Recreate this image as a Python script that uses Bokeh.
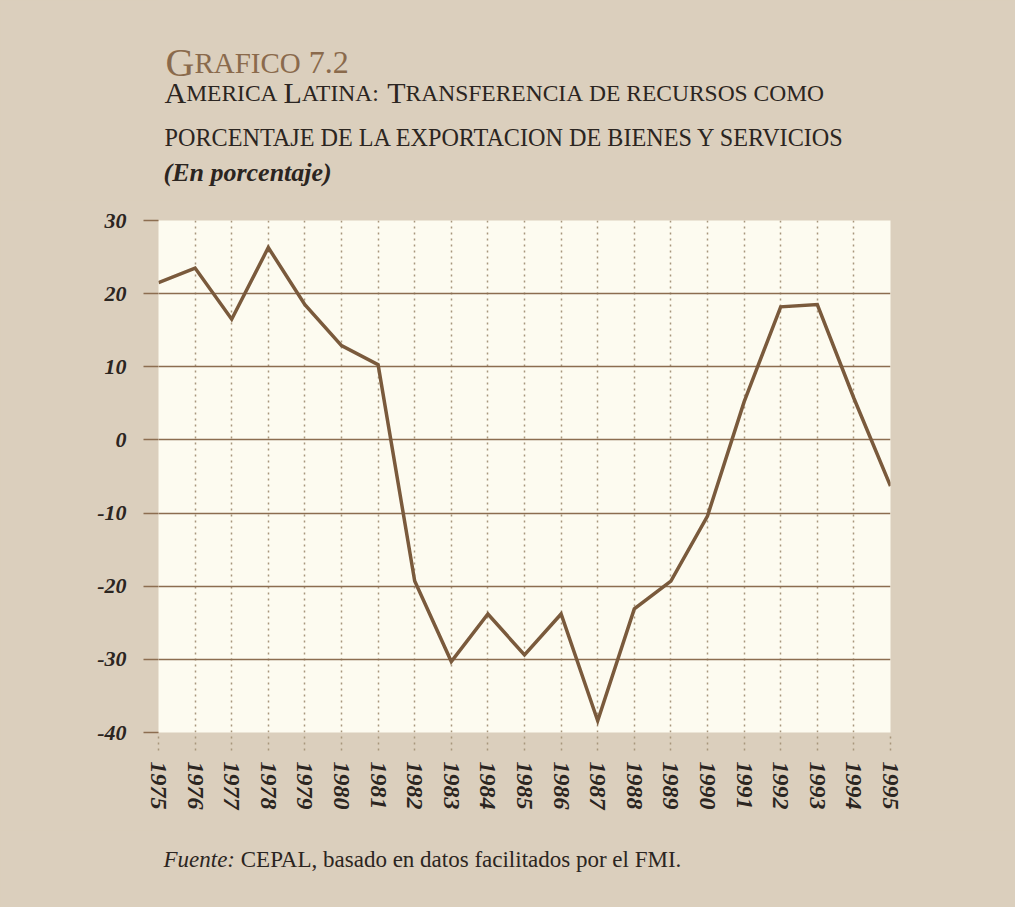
from bokeh.plotting import figure
from bokeh.layouts import column
from bokeh.models import ColumnDataSource, Range1d, FixedTicker
from bokeh.core.properties import value
from bokeh.embed import file_html
from bokeh.resources import INLINE

# ---------------- data ----------------
years = [1975, 1976, 1977, 1978, 1979, 1980, 1981, 1982, 1983, 1984, 1985,
         1986, 1987, 1988, 1989, 1990, 1991, 1992, 1993, 1994, 1995]
values = [21.5, 23.5, 16.5, 26.3, 18.5, 12.9, 10.3, -19.3, -30.3, -23.8, -29.4,
          -23.8, -38.4, -23.1, -19.3, -10.4, 5.2, 18.2, 18.5, 5.7, -6.3]
y_ticks = [-40, -30, -20, -10, 0, 10, 20, 30]
y_tick_labels = {t: str(t) for t in y_ticks}
x_tick_labels = {y: str(y) for y in years}

title_text = "GRAFICO 7.2"
subtitle_1 = "AMERICA LATINA: TRANSFERENCIA DE RECURSOS COMO"
subtitle_2 = "PORCENTAJE DE LA EXPORTACION DE BIENES Y SERVICIOS"
subtitle_3 = "(En porcentaje)"
source_lead = "Fuente:"
source_rest = "CEPAL, basado en datos facilitados por el FMI."

# ---------------- styles ----------------
BEIGE = "#dbcfbd"
CREAM = "#fdfbf0"
LINE = "#7a5a3c"
HGRID = "#8c6d50"
VGRID = "#a8967c"
DARK = "#2b2521"
TITLE_BROWN = "#8a6a4c"
FONT = "Liberation Serif"
W = 1015
H_HEAD, H_MAIN, H_FOOT = 200, 630, 77
BL, BR = 158, 125   # left / right borders shared by all panels
FRAME_W = W - BL - BR

# Times / Liberation Serif advance widths (per 1000 em)
REG = dict(zip("ABCDEFGHIJKLMNOPQRSTUVWXYZ",
               [722, 667, 667, 722, 611, 556, 722, 722, 333, 389, 722, 611, 889,
                722, 722, 556, 722, 667, 556, 611, 722, 722, 944, 722, 722, 611]))
REG.update(dict(zip("abcdefghijklmnopqrstuvwxyz",
                    [444, 500, 444, 500, 444, 333, 500, 500, 278, 278, 500, 278, 778,
                     500, 500, 500, 500, 333, 389, 278, 500, 500, 722, 500, 500, 444])))
REG.update({" ": 250, ":": 278, ".": 250, ",": 250, "(": 333, ")": 333})
REG.update({d: 500 for d in "0123456789"})
ITAL = {"F": 611, "u": 500, "e": 444, "n": 500, "t": 278, ":": 333}


def width(s, size, table=REG):
    return sum(table.get(c, 500) for c in s) * size / 1000.0


def empty_rows():
    return {"x": [], "y": [], "text": [], "size": [], "style": [], "color": []}


def add_row(rows, x, y, txt, size, style="normal", color=DARK):
    rows["x"].append(x)
    rows["y"].append(y)
    rows["text"].append(txt)
    rows["size"].append(f"{size}px")
    rows["style"].append(style)
    rows["color"].append(color)


def add_segments(rows, segments, x0, y, color=DARK):
    x = x0
    for txt, size in segments:
        body = txt.lstrip(" ")
        x += width(txt[:len(txt) - len(body)], size)
        if body.strip():
            add_row(rows, x, y, body.rstrip(" "), size, "normal", color)
        x += width(body, size)


def small_caps_split(text, big, small, initial_words):
    segs = []
    for i, word in enumerate(text.split(" ")):
        sp = " " if i > 0 else ""
        if word in initial_words:
            if sp:
                segs.append((sp, small))
            segs.append((word[0], big))
            segs.append((word[1:], small))
        else:
            segs.append((sp + word, small))
    return segs


def text_figure(h):
    f = figure(width=W, height=h, x_range=Range1d(0, FRAME_W), y_range=Range1d(h, 0),
               title=None, output_backend="svg", toolbar_location=None,
               x_axis_type=None, y_axis_type=None,
               min_border_left=BL, min_border_right=BR, min_border_top=0, min_border_bottom=0,
               background_fill_color=None, border_fill_color=BEIGE, outline_line_color=None)
    f.xgrid.visible = False
    f.ygrid.visible = False
    return f


def draw_text(f, rows):
    f.text(x="x", y="y", text="text", source=ColumnDataSource(rows),
           text_font=value(FONT), text_font_size="size", text_font_style="style",
           text_color="color", text_baseline="alphabetic", text_align="left")


# ---------------- header (x measured from the plot frame's left edge) ----------------
head = text_figure(H_HEAD)
rows = empty_rows()
tparts = title_text.split(" ")
add_segments(rows, [(tparts[0][0], 40), (tparts[0][1:], 29), (" " + tparts[1], 32)],
             7, 62, TITLE_BROWN)
add_segments(rows, small_caps_split(subtitle_1, 30, 23.5,
                                    ("AMERICA", "LATINA:", "TRANSFERENCIA")), 6, 92)
add_segments(rows, [(subtitle_2, 24.2)], 6, 137)
add_row(rows, 5, 172, subtitle_3, 26, "bold italic")
draw_text(head, rows)

# ---------------- main chart ----------------
p = figure(width=W, height=H_MAIN,
           x_range=Range1d(years[0], years[-1]), y_range=Range1d(y_ticks[0], y_ticks[-1]),
           title=None, output_backend="svg", toolbar_location=None,
           min_border_left=BL, min_border_right=BR, min_border_top=20, min_border_bottom=98,
           background_fill_color=CREAM, border_fill_color=BEIGE, outline_line_color=None)

p.xaxis.ticker = FixedTicker(ticks=years)
p.yaxis.ticker = FixedTicker(ticks=y_ticks)
p.xaxis.major_label_overrides = x_tick_labels
p.yaxis.major_label_overrides = y_tick_labels
p.xaxis.major_label_orientation = "vertical"

for ax in (p.xaxis[0], p.yaxis[0]):
    ax.axis_line_color = None
    ax.minor_tick_line_color = None
    ax.major_tick_in = 0
    ax.major_label_text_font = FONT
    ax.major_label_text_font_style = "bold italic"
    ax.major_label_text_color = DARK

p.yaxis.major_tick_out = 15
p.yaxis.major_tick_line_color = HGRID
p.yaxis.major_tick_line_width = 1.5
p.yaxis.major_label_text_font_size = "22px"
p.yaxis.major_label_standoff = 17

p.xaxis.major_tick_out = 18
p.xaxis.major_tick_line_color = VGRID
p.xaxis.major_tick_line_width = 1.5
p.xaxis.major_tick_line_dash = "2 4"
p.xaxis.major_label_text_font_size = "24px"
p.xaxis.major_label_standoff = 11

p.ygrid.grid_line_color = HGRID
p.ygrid.grid_line_width = 1.6
p.xgrid.grid_line_color = VGRID
p.xgrid.grid_line_width = 1.5
p.xgrid.grid_line_dash = "2 4"

p.line(x=years, y=values, line_color=LINE, line_width=3.5, line_join="miter")

# ---------------- footer ----------------
foot = text_figure(H_FOOT)
frows = empty_rows()
add_row(frows, 5, 29, source_lead, 23, "italic")
add_row(frows, 5 + width(source_lead, 23, ITAL) + width(" ", 23), 29, source_rest, 23, "normal")
draw_text(foot, frows)

layout = column(head, p, foot, spacing=0, styles={"background-color": BEIGE})
open("out.html", "w").write(file_html(layout, INLINE))
